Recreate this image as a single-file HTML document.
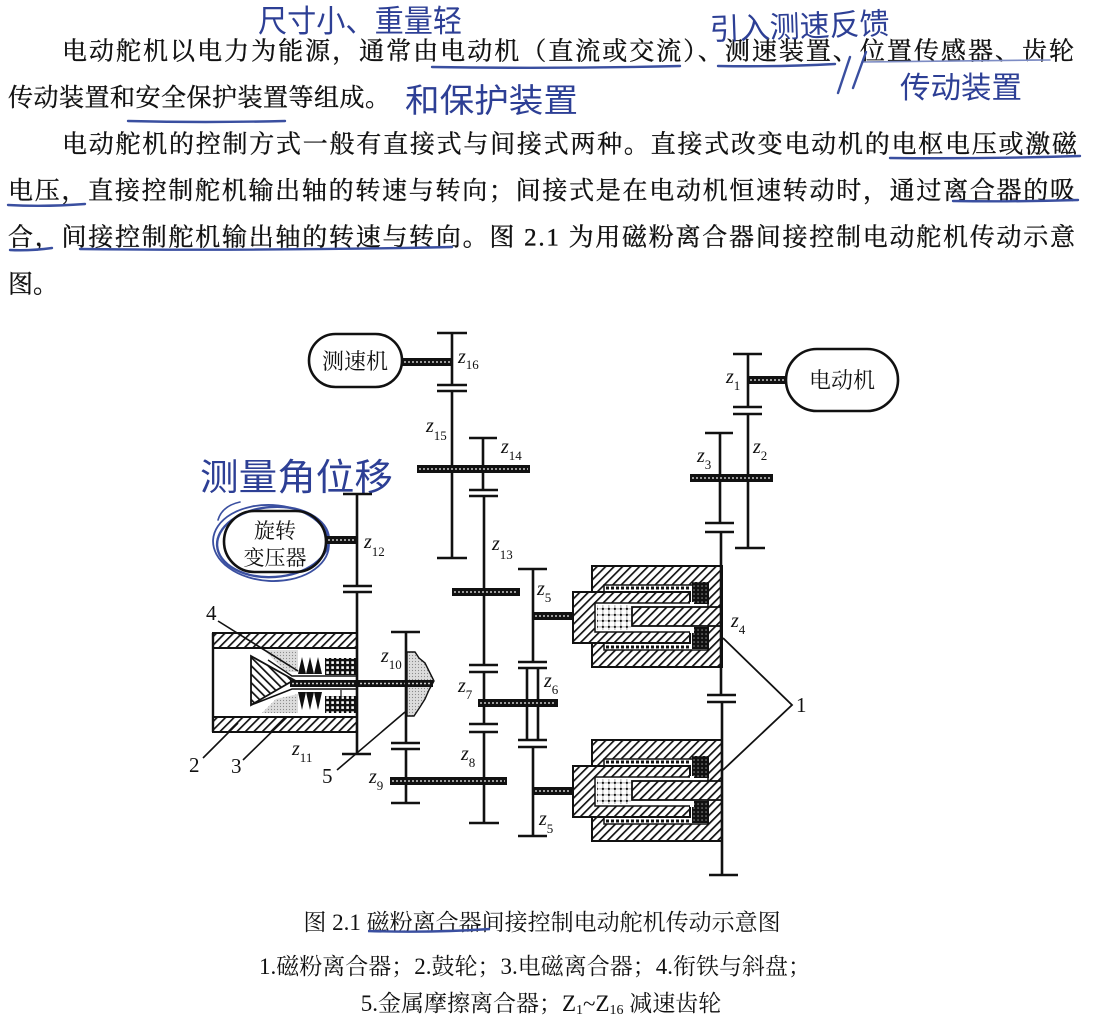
<!DOCTYPE html>
<html><head><meta charset="utf-8"><style>
html,body{margin:0;padding:0;background:#fff;}
body{width:1120px;height:1025px;position:relative;overflow:hidden;}
svg{position:absolute;left:0;top:0;}
.t{font-family:"Liberation Serif","Noto Serif CJK SC",serif;fill:#111;}
.hw{font-family:"Noto Sans CJK SC","WenQuanYi Zen Hei",sans-serif;fill:#2d3f95;}
.z{font-family:"Liberation Serif",serif;font-style:italic;font-size:20px;fill:#111;}
.zs{font-style:normal;font-size:13px;}
.n{font-family:"Liberation Serif",serif;font-size:21px;fill:#111;}
</style></head><body>
<svg width="1120" height="1025" viewBox="0 0 1120 1025" xmlns="http://www.w3.org/2000/svg">
<defs>
 <pattern id="hf" width="6" height="6" patternUnits="userSpaceOnUse" patternTransform="rotate(45)"><rect width="6" height="6" fill="#fff"/><rect width="1.7" height="6" fill="#111"/></pattern>
 <pattern id="hb" width="6" height="6" patternUnits="userSpaceOnUse" patternTransform="rotate(-45)"><rect width="6" height="6" fill="#fff"/><rect width="1.7" height="6" fill="#111"/></pattern>
 <pattern id="grid" width="5" height="5" patternUnits="userSpaceOnUse"><rect width="5" height="5" fill="#111"/><rect x="1.3" y="1.3" width="2.6" height="2.6" fill="#fff"/></pattern>
 <pattern id="coil" width="4" height="4" patternUnits="userSpaceOnUse"><rect width="4" height="4" fill="#111"/><rect x="1.4" y="1.4" width="1.3" height="1.3" fill="#999"/></pattern>
 <pattern id="dots" width="6" height="6" patternUnits="userSpaceOnUse"><rect width="6" height="6" fill="#fff"/><rect x="0" y="2.5" width="6" height="0.8" fill="#999"/><rect x="2.5" y="0" width="0.8" height="6" fill="#999"/><circle cx="2.9" cy="2.9" r="1.1" fill="#111"/></pattern>
 <pattern id="gray" width="3" height="3" patternUnits="userSpaceOnUse"><rect width="3" height="3" fill="#dcdcdc"/><circle cx="1.5" cy="1.5" r="0.6" fill="#8a8a8a"/></pattern>
</defs>

<!-- ===== paragraph text ===== -->
<g class="t" font-size="25" stroke="#111" stroke-width="0.35">
 <text x="62" y="59.5" textLength="1012" lengthAdjust="spacing">电动舵机以电力为能源，通常由电动机（直流或交流）、测速装置、位置传感器、齿轮</text>
 <text x="8" y="106" textLength="382" lengthAdjust="spacing">传动装置和安全保护装置等组成。</text>
 <text x="62" y="152.5" textLength="1015" lengthAdjust="spacing">电动舵机的控制方式一般有直接式与间接式两种。直接式改变电动机的电枢电压或激磁</text>
 <text x="8" y="199" textLength="1067" lengthAdjust="spacing">电压，直接控制舵机输出轴的转速与转向；间接式是在电动机恒速转动时，通过离合器的吸</text>
 <text x="8" y="245.5" textLength="1067" lengthAdjust="spacing">合，间接控制舵机输出轴的转速与转向。图 2.1 为用磁粉离合器间接控制电动舵机传动示意</text>
 <text x="8" y="292.5">图。</text>
</g>

<!-- ===== handwriting ===== -->
<g stroke="#3a4fa0" stroke-width="2.4" fill="none" stroke-linecap="round">
 <path d="M432 67 Q555 69 680 66"/>
 <path d="M718 66 Q780 67 835 64"/>
 <path d="M862 62 Q960 61 1050 60" stroke="#7d8cc4" stroke-width="1.6"/>
 <path d="M850 57 L838 93"/>
 <path d="M866 52 L853 88"/>
 <path d="M128 121 Q205 123 285 121"/>
 <path d="M890 158 Q985 159 1080 156"/>
 <path d="M8 205 Q45 207 85 204"/>
 <path d="M953 201 Q1015 202 1078 200"/>
 <path d="M10 250 Q30 251 52 248"/>
 <path d="M80 249 Q265 251 452 247"/>
 <ellipse cx="273" cy="542" rx="56" ry="35" transform="rotate(-4 273 542)"/>
 <ellipse cx="271" cy="543" rx="58" ry="38" transform="rotate(3 271 543)" stroke-width="1.8"/>
 <path d="M240 502 Q222 506 218 520" stroke-width="1.6"/>
</g>
<g class="hw">
 <text x="258" y="32" font-size="31" textLength="204" lengthAdjust="spacingAndGlyphs">尺寸小、重量轻</text>
 <text x="405" y="112" font-size="33" textLength="173" lengthAdjust="spacingAndGlyphs">和保护装置</text>
 <text x="710" y="40" font-size="30" textLength="180" lengthAdjust="spacingAndGlyphs" transform="rotate(-2 710 40)">引入测速反馈</text>
 <text x="900" y="98" font-size="30" textLength="122" lengthAdjust="spacingAndGlyphs">传动装置</text>
 <text x="200" y="490" font-size="37" textLength="193" lengthAdjust="spacingAndGlyphs">测量角位移</text>
</g>

<!-- ===== diagram ===== -->
<g>
 <rect x="592" y="566" width="130" height="101" fill="url(#hf)" stroke="#111" stroke-width="2"/>
 <rect x="604" y="585" width="104" height="65" fill="#fff" stroke="#111" stroke-width="1.5"/>
 <rect x="591" y="592" width="15" height="51" fill="#fff"/>
 <line x1="606" y1="588" x2="690" y2="588" stroke="#111" stroke-width="3" stroke-dasharray="3 2"/>
 <line x1="606" y1="647" x2="690" y2="647" stroke="#111" stroke-width="3" stroke-dasharray="3 2"/>
 <rect x="692" y="582" width="17" height="22" fill="url(#coil)"/>
 <rect x="692" y="627" width="17" height="22" fill="url(#coil)"/>
 <rect x="573" y="592" width="117" height="51" fill="url(#hf)" stroke="#111" stroke-width="2"/>
 <rect x="595" y="603" width="97" height="29" fill="#fff" stroke="#111" stroke-width="1.5"/>
 <rect x="690" y="602" width="4" height="31" fill="#fff"/>
 <rect x="597" y="605" width="34" height="25" fill="url(#dots)"/>
 <rect x="632" y="607" width="90" height="19" fill="url(#hf)" stroke="#111" stroke-width="1.8"/>
</g>
<g transform="translate(0,174)">
 <rect x="592" y="566" width="130" height="101" fill="url(#hf)" stroke="#111" stroke-width="2"/>
 <rect x="604" y="585" width="104" height="65" fill="#fff" stroke="#111" stroke-width="1.5"/>
 <rect x="591" y="592" width="15" height="51" fill="#fff"/>
 <line x1="606" y1="588" x2="690" y2="588" stroke="#111" stroke-width="3" stroke-dasharray="3 2"/>
 <line x1="606" y1="647" x2="690" y2="647" stroke="#111" stroke-width="3" stroke-dasharray="3 2"/>
 <rect x="692" y="582" width="17" height="22" fill="url(#coil)"/>
 <rect x="692" y="627" width="17" height="22" fill="url(#coil)"/>
 <rect x="573" y="592" width="117" height="51" fill="url(#hf)" stroke="#111" stroke-width="2"/>
 <rect x="595" y="603" width="97" height="29" fill="#fff" stroke="#111" stroke-width="1.5"/>
 <rect x="690" y="602" width="4" height="31" fill="#fff"/>
 <rect x="597" y="605" width="34" height="25" fill="url(#dots)"/>
 <rect x="632" y="607" width="90" height="19" fill="url(#hf)" stroke="#111" stroke-width="1.8"/>
</g>

<!-- drum & electromagnetic clutch -->
<rect x="213" y="633" width="144" height="15" fill="url(#hf)" stroke="#111" stroke-width="2"/>
<rect x="213" y="717" width="144" height="15" fill="url(#hf)" stroke="#111" stroke-width="2"/>
<line x1="213" y1="633" x2="213" y2="732" stroke="#111" stroke-width="2.4"/>
<polygon points="264,650 298,650 298,672 286,672" fill="url(#gray)"/>
<polygon points="262,713 298,713 298,694 276,699" fill="url(#gray)"/>
<polygon points="251,656 294,680 251,705" fill="url(#hb)" stroke="#111" stroke-width="1.8"/>
<polyline points="251,705 292,689 357,689" fill="none" stroke="#111" stroke-width="1.6"/>
<polyline points="268,660 292,676 357,676" fill="none" stroke="#111" stroke-width="1.4"/>
<polygon points="298,674 302,657 306,674 310,657 314,674 318,657 322,674 325,674" fill="#111"/>
<polygon points="298,692 302,710 306,692 310,710 314,692 318,710 322,692 325,692" fill="#111"/>
<rect x="325" y="658" width="31" height="17" fill="url(#grid)"/>
<rect x="325" y="696" width="31" height="17" fill="url(#grid)"/>
<line x1="341" y1="690" x2="341" y2="700" stroke="#111" stroke-width="1.2"/>
<polygon points="407,652 415,652 419,658 425,663 429,671 434,681 429,690 425,699 420,707 414,716 407,716" fill="url(#gray)" stroke="#111" stroke-width="1.4"/>
<rect x="290" y="680" width="143" height="7" fill="#111"/>
<line x1="292" y1="683.5" x2="431" y2="683.5" stroke="#ccc" stroke-width="1.6" stroke-dasharray="2 2"/>

<!-- ellipses -->
<g fill="none" stroke="#111" stroke-width="2.6">
 <rect x="309" y="334" width="93" height="53" rx="26.5"/>
 <rect x="786" y="349" width="112" height="62" rx="31"/>
 <rect x="224" y="511" width="102" height="61" rx="30.5"/>
</g>
<g class="t" font-size="22" text-anchor="middle">
 <text x="355" y="369">测速机</text>
 <text x="842" y="388">电动机</text>
 <text x="275" y="538" font-size="21">旋转</text>
 <text x="275" y="565" font-size="21">变压器</text>
</g>

<!-- shafts, gears, meshes -->
<g stroke="#111" stroke-width="2.6" fill="none">
 <path d="M452 333V385M437 333H467M437 385H467M437 391H467M452 391V558M437 558H467"/>
 <path d="M483 438V490M469 438H497M469 490H498M469 496H498M484 496V665M469 665H498M469 672H498M484 672V724M469 724H498M469 732H498M484 732V823M469 823H499"/>
 <path d="M357 494V586M343 494H372M343 586H372M343 592H372M357 592V754M342 754H371"/>
 <path d="M406 632V743M391 632H420M391 743H420M391 749H420M406 749V803M391 803H420"/>
 <path d="M533 569V662M518 569H547M518 662H547M518 668H547M527 668V740M538 668V740M518 740H547M518 747H547M533 747V836M518 836H547"/>
 <path d="M748 354V407M733 354H762M733 407H762M733 414H762M748 414V548M735 548H765"/>
 <path d="M720 433V523M705 433H733M705 523H734M705 532H734M721 532V695M707 695H736M707 702H736M722 702V875M709 875H738"/>
 <path d="M723 638L792 705L723 770" stroke-width="1.8"/>
 <path d="M218 621L298 671" stroke-width="1.6"/>
 <path d="M203 758L238 723" stroke-width="1.6"/>
 <path d="M243 760L287 717" stroke-width="1.6"/>
 <path d="M337 770L405 712" stroke-width="1.6"/>
</g>

<!-- thick dotted bars -->
<g fill="#111">
 <rect x="402" y="358" width="50" height="8"/>
 <rect x="417" y="465" width="113" height="8"/>
 <rect x="452" y="588" width="68" height="8"/>
 <rect x="478" y="699" width="80" height="8"/>
 <rect x="390" y="777" width="117" height="8"/>
 <rect x="326" y="536" width="31" height="8"/>
 <rect x="533" y="612" width="40" height="8"/>
 <rect x="533" y="787" width="40" height="8"/>
 <rect x="690" y="474" width="83" height="8"/>
 <rect x="748" y="376" width="38" height="8"/>
</g>
<g stroke="#c8c8c8" stroke-width="1.6" stroke-dasharray="2 2">
 <line x1="404" y1="362" x2="450" y2="362"/>
 <line x1="419" y1="469" x2="528" y2="469"/>
 <line x1="454" y1="592" x2="518" y2="592"/>
 <line x1="480" y1="703" x2="556" y2="703"/>
 <line x1="392" y1="781" x2="505" y2="781"/>
 <line x1="328" y1="540" x2="355" y2="540"/>
 <line x1="535" y1="616" x2="571" y2="616"/>
 <line x1="535" y1="791" x2="571" y2="791"/>
 <line x1="692" y1="478" x2="771" y2="478"/>
 <line x1="750" y1="380" x2="784" y2="380"/>
</g>

<!-- gear labels -->
<g class="z">
 <text x="458" y="363">z<tspan class="zs" dy="6">16</tspan></text>
 <text x="426" y="432">z<tspan class="zs" dy="8">15</tspan></text>
 <text x="501" y="453">z<tspan class="zs" dy="7">14</tspan></text>
 <text x="492" y="550">z<tspan class="zs" dy="9">13</tspan></text>
 <text x="364" y="548">z<tspan class="zs" dy="8">12</tspan></text>
 <text x="292" y="755">z<tspan class="zs" dy="7">11</tspan></text>
 <text x="381" y="662">z<tspan class="zs" dy="7">10</tspan></text>
 <text x="369" y="783">z<tspan class="zs" dy="7">9</tspan></text>
 <text x="461" y="760">z<tspan class="zs" dy="7">8</tspan></text>
 <text x="458" y="692">z<tspan class="zs" dy="7">7</tspan></text>
 <text x="544" y="687">z<tspan class="zs" dy="7">6</tspan></text>
 <text x="537" y="595">z<tspan class="zs" dy="7">5</tspan></text>
 <text x="539" y="825">z<tspan class="zs" dy="8">5</tspan></text>
 <text x="731" y="627">z<tspan class="zs" dy="7">4</tspan></text>
 <text x="726" y="383">z<tspan class="zs" dy="7">1</tspan></text>
 <text x="753" y="453">z<tspan class="zs" dy="7">2</tspan></text>
 <text x="697" y="462">z<tspan class="zs" dy="7">3</tspan></text>
</g>
<g class="n">
 <text x="206" y="620">4</text>
 <text x="189" y="772">2</text>
 <text x="231" y="773">3</text>
 <text x="322" y="783">5</text>
 <text x="796" y="712">1</text>
</g>

<!-- caption -->
<g class="t" font-size="23" text-anchor="middle">
 <text x="542" y="930">图 2.1  磁粉离合器间接控制电动舵机传动示意图</text>
 <text x="535" y="974">1.磁粉离合器；2.鼓轮；3.电磁离合器；4.衔铁与斜盘；</text>
 <text x="541" y="1011">5.金属摩擦离合器；Z<tspan font-size="14" dy="3">1</tspan><tspan dy="-3">~Z</tspan><tspan font-size="14" dy="3">16</tspan><tspan dy="-3"> 减速齿轮</tspan></text>
</g>
<path d="M368 931 Q430 933 490 929" stroke="#3a4fa0" stroke-width="2.4" fill="none"/>
</svg>
</body></html>
